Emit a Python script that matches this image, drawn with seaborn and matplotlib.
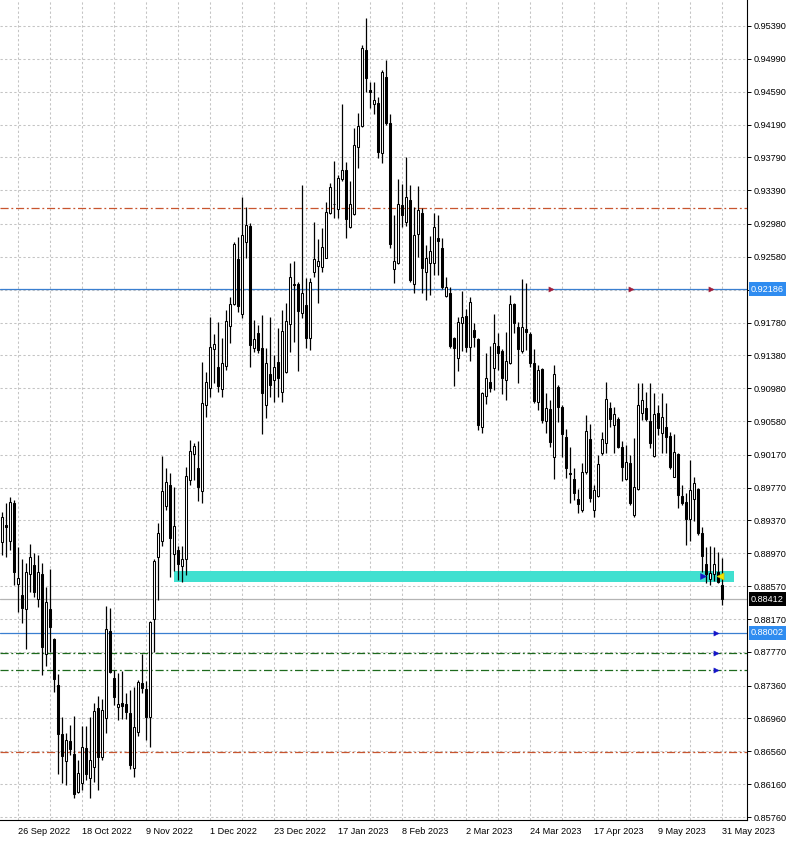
import numpy as np
import pandas as pd
import seaborn as sns
import matplotlib.pyplot as plt
from matplotlib.patches import Rectangle

# daily candles (AUDCAD-like), 20 Sep 2022 .. 31 May 2023
opens = [
    0.89104, 0.89315, 0.89125, 0.89579, 0.88593, 0.88459, 0.88289, 0.88715, 0.88832, 0.88410,
    0.88719, 0.87741, 0.88293, 0.87928, 0.87368, 0.86767, 0.86443, 0.86686, 0.86528, 0.86069,
    0.86170, 0.86605, 0.86231, 0.86365, 0.87083, 0.86487, 0.86962, 0.88025, 0.87449, 0.87104,
    0.87144, 0.87136, 0.87022, 0.86353, 0.86799, 0.87387, 0.87314, 0.86974, 0.88166, 0.88927,
    0.89119, 0.89545, 0.89804, 0.88960, 0.89014, 0.88814, 0.88897, 0.89859, 0.90185, 0.90005,
    0.89733, 0.90778, 0.90987, 0.91459, 0.91238, 0.90974, 0.91250, 0.91739, 0.92011, 0.92554,
    0.91885, 0.92764, 0.92955, 0.91466, 0.91649, 0.91466, 0.90776, 0.91149, 0.91081, 0.91304,
    0.90930, 0.91174, 0.91758, 0.92253, 0.92245, 0.91900, 0.91993, 0.91588, 0.92399, 0.92472,
    0.92452, 0.92570, 0.93109, 0.93219, 0.93158, 0.93527, 0.93636, 0.92943, 0.93097, 0.93921,
    0.94173, 0.95098, 0.94607, 0.94436, 0.94448, 0.93840, 0.94773, 0.94205, 0.92428, 0.92501,
    0.93211, 0.93008, 0.93272, 0.92249, 0.92858, 0.93109, 0.92399, 0.92501, 0.92501, 0.92813,
    0.92683, 0.92103, 0.92144, 0.91588, 0.91344, 0.91770, 0.91859, 0.91478, 0.91689, 0.91576,
    0.90512, 0.90890, 0.91060, 0.91222, 0.91494, 0.91433, 0.91080, 0.91283, 0.92006, 0.91722,
    0.91433, 0.91697, 0.91636, 0.91283, 0.90817, 0.91210, 0.90585, 0.90727, 0.90147, 0.91000,
    0.90756, 0.90382, 0.89952, 0.89871, 0.89627, 0.89498, 0.89964, 0.90358, 0.89498, 0.89668,
    0.90188, 0.90317, 0.90735, 0.90532, 0.90601, 0.90261, 0.89871, 0.90066, 0.89437, 0.89753,
    0.90683, 0.90735, 0.90585, 0.90155, 0.90674, 0.90439, 0.90504, 0.90398, 0.89903, 0.90179,
    0.89668, 0.89599, 0.89384, 0.89628, 0.89749, 0.89214, 0.88840, 0.88654, 0.88718, 0.88747,
    0.88585,
]
highs = [
    0.89478, 0.89579, 0.89660, 0.89620, 0.89044, 0.88897, 0.88849, 0.89084, 0.88979, 0.88946,
    0.88849, 0.88557, 0.88776, 0.87940, 0.87502, 0.86982, 0.86779, 0.86881, 0.86990, 0.86455,
    0.86868, 0.86868, 0.86982, 0.87144, 0.87238, 0.87193, 0.88329, 0.88309, 0.87550, 0.87510,
    0.87542, 0.87266, 0.87306, 0.87339, 0.87428, 0.87741, 0.87416, 0.88150, 0.88900, 0.89336,
    0.90151, 0.90005, 0.89942, 0.89775, 0.89064, 0.89064, 0.90026, 0.90347, 0.90318, 0.90339,
    0.91300, 0.91175, 0.91844, 0.91635, 0.91781, 0.91593, 0.91927, 0.92094, 0.92763, 0.92826,
    0.93306, 0.93191, 0.92988, 0.91811, 0.91750, 0.91872, 0.91466, 0.91851, 0.91385, 0.91718,
    0.91933, 0.92014, 0.92501, 0.92529, 0.92278, 0.93454, 0.92318, 0.92318, 0.93000, 0.92797,
    0.92927, 0.93251, 0.93475, 0.93746, 0.93576, 0.94436, 0.93738, 0.93503, 0.94144, 0.94327,
    0.95159, 0.95483, 0.94712, 0.94712, 0.94530, 0.94854, 0.94976, 0.94319, 0.93089, 0.93527,
    0.93467, 0.93799, 0.93454, 0.93191, 0.93442, 0.93170, 0.92724, 0.92834, 0.93109, 0.93089,
    0.92805, 0.92330, 0.92216, 0.91608, 0.91851, 0.92168, 0.91941, 0.92095, 0.91778, 0.91588,
    0.90938, 0.91405, 0.91494, 0.91884, 0.91649, 0.91454, 0.91669, 0.92115, 0.92014, 0.91790,
    0.92306, 0.92265, 0.91669, 0.91454, 0.91263, 0.91222, 0.90926, 0.90837, 0.91263, 0.91020,
    0.90776, 0.90480, 0.90269, 0.90005, 0.89750, 0.90066, 0.90654, 0.90545, 0.89802, 0.90167,
    0.90451, 0.91060, 0.90816, 0.90747, 0.90634, 0.90342, 0.90289, 0.90167, 0.90370, 0.91048,
    0.91040, 0.90938, 0.91048, 0.90918, 0.90776, 0.90918, 0.90796, 0.90451, 0.90423, 0.90196,
    0.89802, 0.89700, 0.90106, 0.89903, 0.89761, 0.89287, 0.89051, 0.89059, 0.89051, 0.88990,
    0.88909,
]
lows = [
    0.88950, 0.88930, 0.89011, 0.88585, 0.88260, 0.88118, 0.87806, 0.88504, 0.88443, 0.88321,
    0.87489, 0.87599, 0.87773, 0.87286, 0.86284, 0.86170, 0.86154, 0.86515, 0.85988, 0.86049,
    0.86089, 0.86211, 0.85988, 0.86191, 0.86089, 0.86455, 0.86779, 0.87510, 0.87124, 0.86942,
    0.86949, 0.86949, 0.86341, 0.86251, 0.86746, 0.87266, 0.86698, 0.86608, 0.87769, 0.88396,
    0.89065, 0.89503, 0.88688, 0.88751, 0.88647, 0.88626, 0.88709, 0.89796, 0.89859, 0.89608,
    0.89578, 0.90632, 0.90874, 0.91041, 0.90933, 0.90874, 0.91196, 0.91530, 0.91990, 0.91906,
    0.91835, 0.92562, 0.91243, 0.91425, 0.91405, 0.90419, 0.90622, 0.90878, 0.90817, 0.90878,
    0.90809, 0.91162, 0.91425, 0.91547, 0.91190, 0.91839, 0.91466, 0.91446, 0.92338, 0.92014,
    0.92399, 0.92562, 0.93097, 0.93057, 0.93048, 0.93503, 0.92805, 0.92935, 0.93089, 0.93657,
    0.94165, 0.94591, 0.94396, 0.94315, 0.93787, 0.93720, 0.94185, 0.92683, 0.92257, 0.92493,
    0.92947, 0.92955, 0.92278, 0.92144, 0.92574, 0.92136, 0.92054, 0.92115, 0.92359, 0.92359,
    0.92184, 0.92095, 0.91466, 0.91007, 0.91194, 0.91437, 0.91425, 0.91316, 0.91478, 0.90472,
    0.90431, 0.90788, 0.90938, 0.90959, 0.91202, 0.90910, 0.90837, 0.91275, 0.91649, 0.91040,
    0.91413, 0.91446, 0.91235, 0.90804, 0.90715, 0.90561, 0.90439, 0.90269, 0.89871, 0.90573,
    0.90147, 0.89883, 0.89579, 0.89619, 0.89465, 0.89478, 0.89936, 0.89599, 0.89417, 0.89660,
    0.90167, 0.90187, 0.90512, 0.90187, 0.90248, 0.89855, 0.89863, 0.89559, 0.89416, 0.89741,
    0.90593, 0.90585, 0.90248, 0.90139, 0.90411, 0.90187, 0.90187, 0.89993, 0.89895, 0.89518,
    0.89559, 0.89072, 0.89124, 0.89368, 0.89193, 0.88747, 0.88605, 0.88585, 0.88637, 0.88605,
    0.88341,
]
closes = [
    0.89409, 0.89295, 0.89591, 0.88739, 0.88666, 0.88301, 0.88739, 0.88922, 0.88496, 0.88739,
    0.87826, 0.88374, 0.88078, 0.87437, 0.86767, 0.86503, 0.86698, 0.86593, 0.86041, 0.86292,
    0.86613, 0.86284, 0.86451, 0.87051, 0.86487, 0.87063, 0.88053, 0.87522, 0.87226, 0.87132,
    0.87116, 0.87043, 0.86393, 0.86860, 0.87408, 0.87335, 0.86974, 0.88138, 0.88877, 0.89219,
    0.89733, 0.89838, 0.89157, 0.89303, 0.88843, 0.88906, 0.89913, 0.90214, 0.90276, 0.89775,
    0.90799, 0.91058, 0.91488, 0.91518, 0.91008, 0.91292, 0.91802, 0.92002, 0.92742, 0.91977,
    0.92846, 0.92967, 0.91507, 0.91580, 0.91446, 0.90918, 0.91283, 0.91020, 0.91243, 0.91101,
    0.91677, 0.91799, 0.92330, 0.92237, 0.91925, 0.92135, 0.91596, 0.92269, 0.92549, 0.92533,
    0.92695, 0.93122, 0.93434, 0.93222, 0.93535, 0.93636, 0.93040, 0.93219, 0.93941, 0.94173,
    0.95118, 0.94753, 0.94591, 0.94489, 0.93852, 0.94826, 0.94205, 0.92736, 0.92533, 0.93223,
    0.93089, 0.93304, 0.92298, 0.92846, 0.93150, 0.92440, 0.92562, 0.92655, 0.92939, 0.92777,
    0.92208, 0.92208, 0.91494, 0.91466, 0.91791, 0.91843, 0.91486, 0.92026, 0.91600, 0.90532,
    0.90926, 0.91101, 0.90987, 0.91527, 0.91413, 0.91109, 0.91312, 0.92001, 0.91770, 0.91454,
    0.91730, 0.91669, 0.91283, 0.90829, 0.91202, 0.90593, 0.90735, 0.90330, 0.91149, 0.90748,
    0.90423, 0.90005, 0.89936, 0.89709, 0.89567, 0.89956, 0.90464, 0.89640, 0.89741, 0.90058,
    0.90358, 0.90845, 0.90601, 0.90662, 0.90269, 0.90017, 0.90086, 0.89587, 0.89782, 0.90776,
    0.90837, 0.90601, 0.90309, 0.90666, 0.90492, 0.90626, 0.90390, 0.90017, 0.90208, 0.89680,
    0.89579, 0.89384, 0.89741, 0.89822, 0.89214, 0.88938, 0.88718, 0.88727, 0.88840, 0.88625,
    0.88412,
]

# price scale ticks shown on the right (0.92180 sits under the 0.92186 box)
price_ticks = [0.95390, 0.94990, 0.94590, 0.94190, 0.93790, 0.93390, 0.92980, 0.92580,
               0.92180, 0.91780, 0.91380, 0.90980, 0.90580, 0.90170, 0.89770, 0.89370,
               0.88970, 0.88570, 0.88170, 0.87770, 0.87360, 0.86960, 0.86560, 0.86160,
               0.85760]
hidden_ticks = [0.92180]

# horizontal levels drawn on the chart
red_levels = [0.93174, 0.86548]
green_levels = [0.87753, 0.87546]
blue_levels = [0.92186, 0.88002]
bid_price = 0.88412
zone_low, zone_high = 0.88621, 0.88759
zone_start, zone_end = 43, 183

# small arrow objects
red_arrow_bars = [137.3, 157.3, 177.3]
blue_arrow_prices = [0.88002, 0.87753, 0.87546]

dates = pd.bdate_range("2022-09-20", "2023-05-31")
dates = dates[dates != pd.Timestamp("2022-12-26")]
df = pd.DataFrame({"date": dates, "open": opens, "high": highs,
                   "low": lows, "close": closes})
df["idx"] = np.arange(len(df))
df["up"] = df["close"] >= df["open"]

sns.set_style("white")
plt.rcParams["font.family"] = ["Liberation Sans", "DejaVu Sans"]

fig = plt.figure(figsize=(7.96, 8.43), dpi=100)
ax = fig.add_axes([0, 23 / 843, 747 / 796, 820 / 843])

# grid
for p in price_ticks:
    ax.axhline(p, color="#c4c4c4", lw=0.75, ls=(0, (2.2, 2.2)), zorder=0)
for i in range(4, 187, 8):
    ax.axvline(i, color="#c4c4c4", lw=0.75, ls=(0, (2.2, 2.2)), zorder=0)

# levels
dashdot = (0, (6.5, 2.2, 1.5, 2.2))
for p in red_levels:
    ax.axhline(p, color="#c8552f", lw=0.9, ls=dashdot, zorder=1)
for p in green_levels:
    ax.axhline(p, color="#1d6a1d", lw=0.9, ls=dashdot, zorder=1)
for p in blue_levels:
    ax.axhline(p, color="#3a7fd0", lw=0.9, zorder=1)
ax.axhline(bid_price, color="#b4b4b4", lw=0.9, zorder=1)

ax.add_patch(Rectangle((zone_start, zone_low), zone_end - zone_start,
                       zone_high - zone_low, fc="#40e0d0", ec="none", zorder=1.5))

# candles
ax.vlines(df["idx"], df["low"], df["high"], color="black", lw=0.9, zorder=2)
body_lo = np.minimum(df["open"], df["close"])
body_h = np.maximum((df["close"] - df["open"]).abs(), 0.00003)
ax.bar(df["idx"], body_h, bottom=body_lo, width=0.72,
       color=np.where(df["up"], "white", "black"),
       edgecolor="black", linewidth=0.75, zorder=3)

# arrow markers
sns.scatterplot(x=red_arrow_bars, y=[blue_levels[0]] * 3, marker=">", s=14,
                color="#a01d3a", edgecolor="#a01d3a", ax=ax, zorder=4)
sns.scatterplot(x=[178.5] * 3, y=blue_arrow_prices, marker=">", s=14,
                color="#1515c8", edgecolor="#1515c8", ax=ax, zorder=4)
sns.scatterplot(x=[175.3], y=[0.8869], marker=">", s=18, color="#1515c8",
                edgecolor="#1515c8", ax=ax, zorder=4)
sns.scatterplot(x=[179.6], y=[0.8869], marker="<", s=26, color="#f2e600",
                edgecolor="#c8b800", ax=ax, zorder=4)

ax.set_xlim(-0.5, 186.25)
ax.set_ylim(0.857236, 0.957065)

# axes, ticks and labels
for side in ["left", "top"]:
    ax.spines[side].set_visible(False)
for side in ["right", "bottom"]:
    ax.spines[side].set_color("black")
    ax.spines[side].set_linewidth(0.8)

ax.yaxis.tick_right()
ax.set_yticks(price_ticks)
ax.set_yticklabels(["" if p in hidden_ticks else f"{p:.5f}" for p in price_ticks])
ax.tick_params(axis="y", direction="out", length=3, width=0.7, pad=2,
               labelsize=6.6, colors="black")

label_idx = list(range(4, len(df), 16))
ax.set_xticks(label_idx)
ax.set_xticklabels([f"{dates[i].day} {dates[i]:%b %Y}" for i in label_idx])
for lab in ax.get_xticklabels():
    lab.set_horizontalalignment("left")
ax.tick_params(axis="x", direction="out", length=3, width=0.7, pad=2,
               labelsize=6.6, colors="black")
ax.set_xlabel("")
ax.set_ylabel("")

# price boxes on the scale
ytr = ax.get_yaxis_transform()
for p, fc in [(blue_levels[0], "#2f8cf0"), (blue_levels[1], "#2f8cf0"), (bid_price, "black")]:
    ax.text(1.0055, p, f"{p:.5f}", transform=ytr, ha="left", va="center",
            fontsize=6.6, color="white", zorder=6, clip_on=False,
            bbox=dict(boxstyle="square,pad=0.25", fc=fc, ec="none"))

fig.savefig("out.png", dpi=100, facecolor="white")
